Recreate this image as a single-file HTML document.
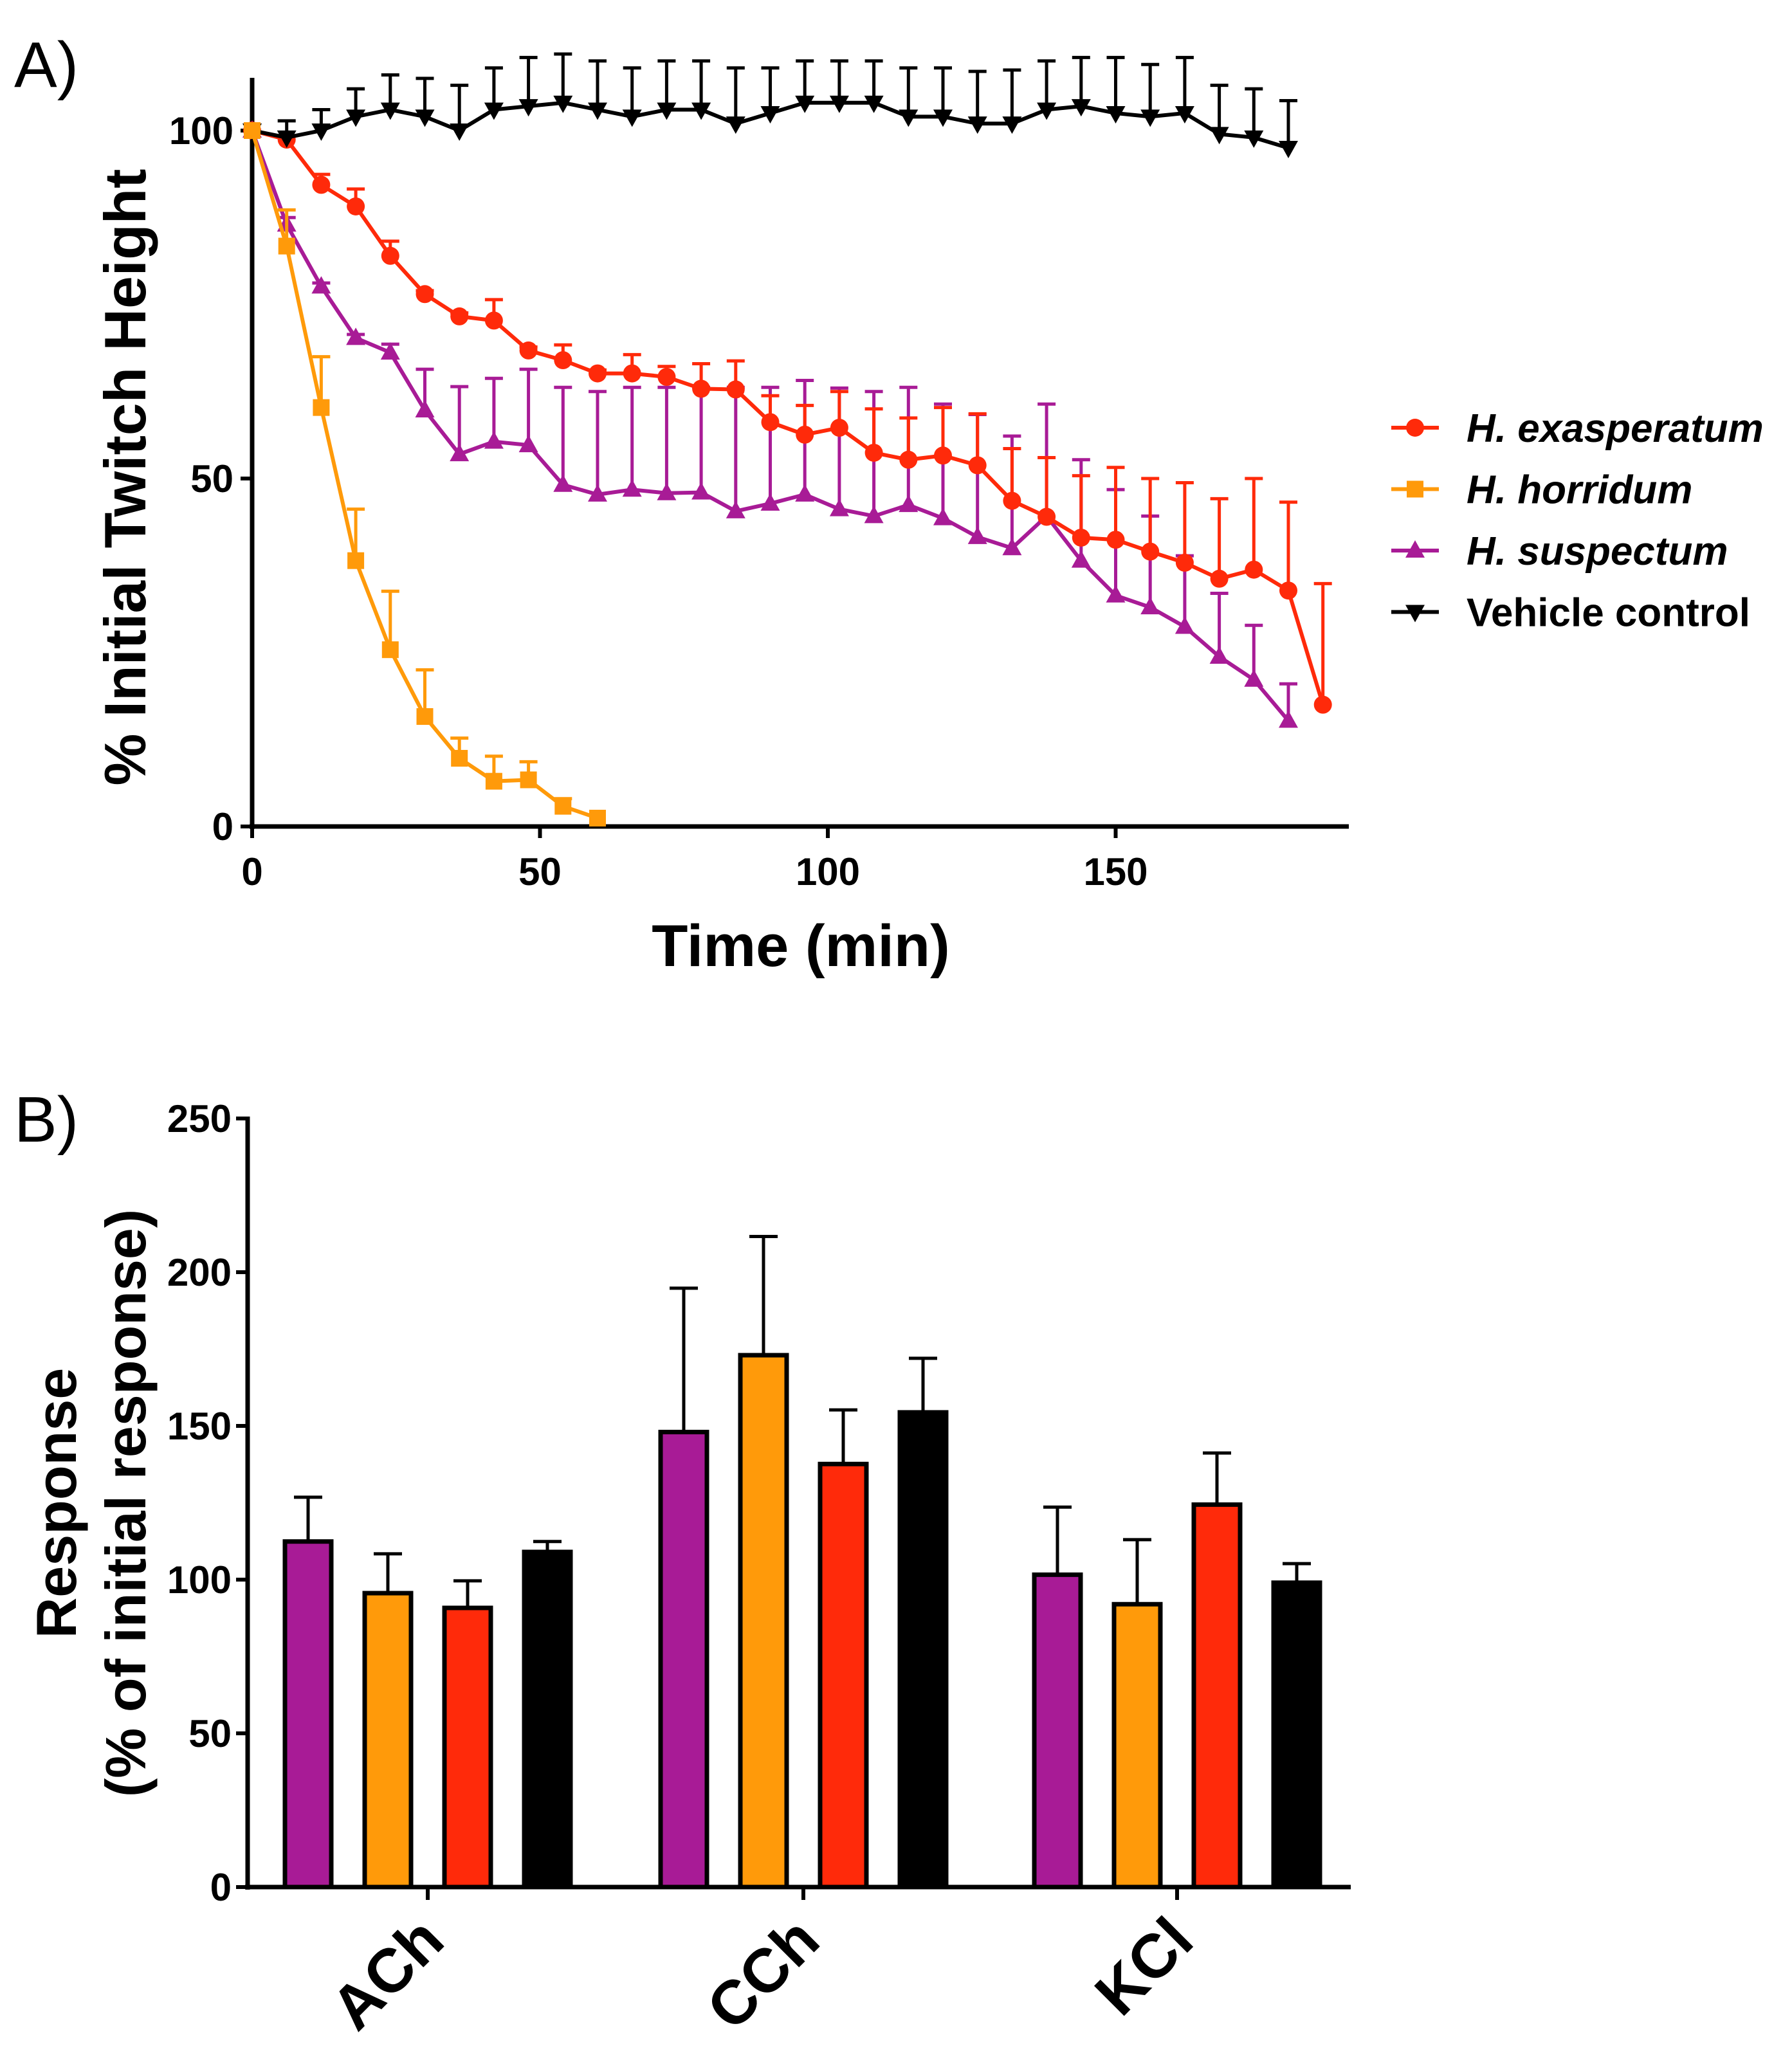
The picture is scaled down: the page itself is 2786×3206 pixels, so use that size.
<!DOCTYPE html>
<html><head><meta charset="utf-8"><style>
html,body{margin:0;padding:0;background:#fff}
svg{display:block}
text{font-family:"Liberation Sans",Arial,sans-serif}
</style></head><body>
<svg id="chart" xmlns="http://www.w3.org/2000/svg" width="2786" height="3206" viewBox="0 0 2786 3206">
<text x="22" y="135" font-size="100">A)</text>
<text x="22" y="1775" font-size="100">B)</text>
<g id="pa"></g>
<g id="pb"></g>
</svg>
<script>
// ---------- Panel A data ----------
const times = [0,6,12,18,24,30,36,42,48,54,60,66,72,78,84,90,96,102,108,114,120,126,132,138,144,150,156,162,168,174,180,186];
const vehicleVals = [100,99,100,102,103,102,100,103,103.5,104,103,102,103,103,101,102.5,104,104,104,102,102,101,101,103,103.5,102.5,102,102.5,99.5,99,97.5];
const vehicleErr  = [0,2.4,3,4,5,5.5,6.5,6,7,7,7,7,7,7,8,6.5,6,6,6,7,7,7.5,7.7,7,7,8,7.5,8,7,7,6.8];
const exasVals = [100,98.7,92.2,89.1,82,76.5,73.3,72.7,68.4,67,65.1,65.1,64.6,62.9,62.8,58.1,56.3,57.3,53.7,52.7,53.3,51.9,46.8,44.5,41.5,41.2,39.5,37.9,35.6,36.9,33.9,17.5];
const exasErr  = [0,0.5,1.5,2.5,2.1,0.5,0.5,3,0.5,2.2,0.5,2.7,1.5,3.6,4.1,3.8,4.2,5.2,6.3,6,6.9,7.4,7.5,8.5,8.9,10.4,10.5,11.5,11.5,13.1,12.7,17.4];
const suspVals = [100,86.5,77.6,70.2,68.1,59.8,53.5,55.3,54.8,49.1,47.7,48.4,47.9,48,45.3,46.4,47.7,45.6,44.6,46.2,44.3,41.6,40,44.6,38.2,33.2,31.5,28.7,24.4,21.1,15.2];
const suspErr  = [0,1,0.5,0.5,1.2,5.9,9.7,9.1,10.9,14,14.8,14.7,15.2,15.1,17.8,16.7,16.4,17.4,17.9,16.9,16.4,17.6,16.1,16.1,14.5,15.2,13.1,10.2,9.1,7.8,5.3];
const horrVals = [100,83.4,60.2,38.2,25.4,15.8,9.8,6.5,6.7,2.9,1.2];
const horrErr  = [0,5.2,7.3,7.4,8.4,6.7,2.9,3.6,2.6,1.1,0];
const yTicksA = [0,50,100];
const xTicksA = [0,50,100,150];
// ---------- Panel B data ----------
const categories = ["ACh","CCh","KCl"];
const suspB = [112.4,148,101.6];
const suspBErr = [14.4,46.8,22];
const horrB = [95.6,173,92];
const horrBErr = [12.8,38.6,21];
const exasB = [90.8,137.6,124.4];
const exasBErr = [8.8,17.6,16.8];
const vehB = [109,154.4,99];
const vehBErr = [3.4,17.6,6.2];
const yTicksB = [0,50,100,150,200,250];

const NS="http://www.w3.org/2000/svg";
function mk(parent,tag,attrs){const e=document.createElementNS(NS,tag);for(const k in attrs)e.setAttribute(k,attrs[k]);parent.appendChild(e);return e;}

const C={exas:"#ff2a0a",horr:"#ff9a0a",susp:"#a81b96",veh:"#000000"};
// ---------- Panel A ----------
const pa=document.getElementById('pa');
const ax=t=>392+t*(447.5/50);
const ay=v=>1285-v*(1082/100);
let e;
e=mk(pa,'line',{x1:392,y1:121,x2:392,y2:1289,stroke:'#000','stroke-width':7});

e=mk(pa,'line',{x1:388,y1:1285,x2:2097,y2:1285,stroke:'#000','stroke-width':7});

yTicksA.forEach(v=>{
  e=mk(pa,'line',{x1:374,y1:ay(v),x2:392,y2:ay(v),stroke:'#000','stroke-width':6});
  
  e=mk(pa,'text',{x:363,y:ay(v)+21,'font-size':60,'font-weight':'bold','text-anchor':'end'});e.textContent=v;
  
});
xTicksA.forEach(v=>{
  e=mk(pa,'line',{x1:ax(v),y1:1285,x2:ax(v),y2:1303,stroke:'#000','stroke-width':6});
  
  e=mk(pa,'text',{x:ax(v),y:1376,'font-size':60,'font-weight':'bold','text-anchor':'middle'});e.textContent=v;
  
});
e=mk(pa,'text',{x:1245,y:1502,'font-size':92,'font-weight':'bold','text-anchor':'middle'});e.textContent='Time (min)';

e=mk(pa,'text',{x:0,y:0,'font-size':91,'font-weight':'bold','text-anchor':'middle',transform:'translate(226,742) rotate(-90)'});e.textContent='% Initial Twitch Height';


function marker(g,type,x,y,col){
  if(type==='circle')return mk(g,'circle',{cx:x,cy:y,r:14,fill:col});
  if(type==='square')return mk(g,'rect',{x:x-13,y:y-13,width:26,height:26,fill:col});
  if(type==='tri')return mk(g,'polygon',{points:`${x},${y-16} ${x-15},${y+11} ${x+15},${y+11}`,fill:col});
  return mk(g,'polygon',{points:`${x},${y+16} ${x-15},${y-11} ${x+15},${y-11}`,fill:col});
}
function series(name,vals,errs,col,type){
  const g=mk(pa,'g',{});
  
  vals.forEach((v,i)=>{
    if(errs[i]>0){
      const x=ax(times[i]),y1=ay(v),y2=ay(v+errs[i]);
      const l=mk(g,'path',{d:`M${x},${y1}V${y2}M${x-14},${y2}H${x+14}`,stroke:col,'stroke-width':5,fill:'none'});
      
    }
  });
  const p=mk(g,'polyline',{points:vals.map((v,i)=>ax(times[i])+','+ay(v)).join(' '),stroke:col,'stroke-width':6,fill:'none'});
  
  vals.forEach((v,i)=>{
    const m=marker(g,type,ax(times[i]),ay(v),col);
    
  });
}
series('h-suspectum',suspVals,suspErr,C.susp,'tri');
series('h-exasperatum',exasVals,exasErr,C.exas,'circle');
series('vehicle-control',vehicleVals,vehicleErr,C.veh,'dtri');
series('h-horridum',horrVals,horrErr,C.horr,'square');

const legend=[["h-exasperatum","H. exasperatum",C.exas,'circle',true],["h-horridum","H. horridum",C.horr,'square',true],["h-suspectum","H. suspectum",C.susp,'tri',true],["vehicle-control","Vehicle control",C.veh,'dtri',false]];
legend.forEach((L,i)=>{
  const y=665+i*95.5;
  const g=mk(pa,'g',{});
  
  mk(g,'line',{x1:2163,y1:y,x2:2237,y2:y,stroke:L[2],'stroke-width':6});
  marker(g,L[3],2200,y,L[2]);
  const t=mk(g,'text',{x:2280,y:y+22,'font-size':62,'font-weight':'bold','font-style':L[4]?'italic':'normal'});t.textContent=L[1];
});

// ---------- Panel B ----------
const pb=document.getElementById('pb');
const by=v=>2934-v*(1195/250);
const groupC=[665,1249,1830];
const pitch=124,bw=72;
e=mk(pb,'line',{x1:385,y1:1736,x2:385,y2:2938,stroke:'#000','stroke-width':7});

e=mk(pb,'line',{x1:381,y1:2934,x2:2100,y2:2934,stroke:'#000','stroke-width':7});

yTicksB.forEach(v=>{
  e=mk(pb,'line',{x1:367,y1:by(v),x2:385,y2:by(v),stroke:'#000','stroke-width':6});
  
  e=mk(pb,'text',{x:360,y:by(v)+21,'font-size':60,'font-weight':'bold','text-anchor':'end'});e.textContent=v;
  
});
const bseries=[["h-suspectum",suspB,suspBErr,C.susp],["h-horridum",horrB,horrBErr,C.horr],["h-exasperatum",exasB,exasBErr,C.exas],["vehicle-control",vehB,vehBErr,C.veh]];
categories.forEach((cat,ci)=>{
  const cx=groupC[ci];
  e=mk(pb,'line',{x1:cx,y1:2934,x2:cx,y2:2954,stroke:'#000','stroke-width':6});
  
  e=mk(pb,'text',{x:0,y:0,'font-size':96,'font-weight':'bold','text-anchor':'end',transform:`translate(${cx+30},${3022}) rotate(-45)`});e.textContent=cat;
  
  bseries.forEach((s,si)=>{
    const x=cx+(si-1.5)*pitch;
    const v=s[1][ci],er=s[2][ci];
    const l=mk(pb,'path',{d:`M${x},${by(v)}V${by(v+er)}M${x-22},${by(v+er)}H${x+22}`,stroke:'#000','stroke-width':5,fill:'none'});
    
    const r=mk(pb,'rect',{x:x-bw/2,y:by(v),width:bw,height:by(0)-by(v),fill:s[3],stroke:'#000','stroke-width':7});
    
  });
});
e=mk(pb,'text',{x:0,y:0,'font-size':88,'font-weight':'bold','text-anchor':'middle',transform:'translate(118,2337) rotate(-90)'});e.textContent='Response';

e=mk(pb,'text',{x:0,y:0,'font-size':88,'font-weight':'bold','text-anchor':'middle',transform:'translate(226,2337) rotate(-90)'});e.textContent='(% of initial response)';

</script>
</body></html>
